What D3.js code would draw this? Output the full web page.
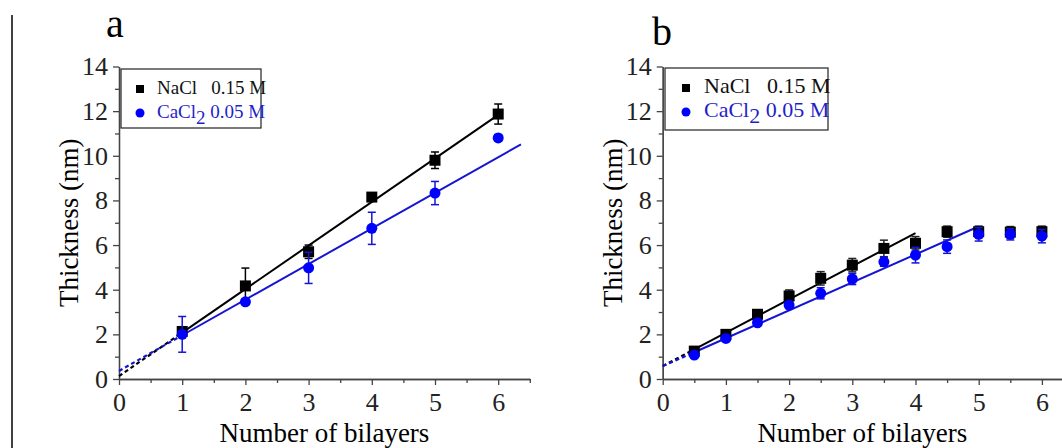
<!DOCTYPE html>
<html>
<head>
<meta charset="utf-8">
<script src="https://cdn.jsdelivr.net/npm/d3@7"></script>
<style>
  html, body { margin: 0; padding: 0; background: #fff; }
  svg { display: block; }
  .axis path, .axis line { stroke: #444; stroke-width: 1.3; }
</style>
</head>
<body>
<div id="chart"></div>
<script>
// panel a - whole bilayers
const bilayersA = [1, 2, 3, 4, 5, 6];
const naclA = [2.13, 4.17, 5.7, 8.15, 9.8, 11.87];
const naclErrA = [0.15, 0.8, 0.3, 0.15, 0.37, 0.45];
const caclA = [2.0, 3.46, 4.98, 6.75, 8.33, 10.8];
const caclErrA = [0.8, 0.12, 0.7, 0.72, 0.52, 0.15];
// linear fits: first segment dashed, second solid
const naclFitXA = [0, 1, 6];
const naclFitYA = [0.13, 2.08, 11.83];
const caclFitXA = [0, 1, 6.36];
const caclFitYA = [0.36, 1.96, 10.51];

// panel b - half bilayers
const bilayersB = [0.5, 1, 1.5, 2, 2.5, 3, 3.5, 4, 4.5, 5, 5.5, 6];
const naclB = [1.25, 2.0, 2.9, 3.72, 4.51, 5.1, 5.85, 6.08, 6.6, 6.6, 6.58, 6.6];
const naclErrB = [0.1, 0.1, 0.15, 0.27, 0.3, 0.3, 0.37, 0.3, 0.25, 0.25, 0.25, 0.25];
const caclB = [1.07, 1.82, 2.52, 3.31, 3.84, 4.48, 5.25, 5.55, 5.93, 6.48, 6.48, 6.4];
const caclErrB = [0.1, 0.1, 0.1, 0.15, 0.25, 0.25, 0.2, 0.35, 0.3, 0.3, 0.25, 0.3];
const naclFitXB = [0, 0.5, 4];
const naclFitYB = [0.58, 1.33, 6.54];
const caclFitXB = [0, 0.5, 4.99];
const caclFitYB = [0.58, 1.2, 6.82];

const xMajor = [0, 1, 2, 3, 4, 5, 6];
const xMinor = [0.5, 1.5, 2.5, 3.5, 4.5, 5.5, 6.5];
const yMajor = [0, 2, 4, 6, 8, 10, 12, 14];
const yMinor = [1, 3, 5, 7, 9, 11, 13];

const black = "#000";
const blue = "#0000ff";
const blueLine = "#1414d2";
const serif = "'Liberation Serif', 'Times New Roman', serif";

const W = 1062, H = 448;
const svg = d3.select("#chart").append("svg")
    .attr("width", W)
    .attr("height", H)
    .attr("font-family", serif);

// left border line
svg.append("line")
    .attr("x1", 12).attr("x2", 12)
    .attr("y1", 15).attr("y2", H)
    .attr("stroke", "#000").attr("stroke-width", 1.5);

function styleAxis(sel) {
    sel.attr("font-family", serif).attr("font-size", 26);
    sel.selectAll("text").attr("fill", "#222");
}

function drawPanel(p) {
    let xScale = d3.scaleLinear().domain([0, 6.5]).range([p.left, p.left + 6.5 * 63.2]);
    let yScale = d3.scaleLinear().domain([0, 14]).range([379, 66.5]);

    let g = svg.append("g");

    // axes
    g.append("g")
        .attr("class", "axis")
        .attr("transform", "translate(0,379)")
        .call(d3.axisBottom(xScale).tickValues(xMinor).tickSize(4).tickSizeOuter(0).tickFormat(""));
    g.append("g")
        .attr("class", "axis")
        .attr("transform", "translate(0,379)")
        .call(d3.axisBottom(xScale).tickValues(xMajor).tickSize(6).tickSizeOuter(0).tickPadding(8).tickFormat(d3.format("d")))
        .call(styleAxis);
    g.append("g")
        .attr("class", "axis")
        .attr("transform", "translate(" + p.left + ",0)")
        .call(d3.axisLeft(yScale).tickValues(yMinor).tickSize(4).tickSizeOuter(0).tickFormat(""));
    g.append("g")
        .attr("class", "axis")
        .attr("transform", "translate(" + p.left + ",0)")
        .call(d3.axisLeft(yScale).tickValues(yMajor).tickSize(6).tickSizeOuter(0).tickPadding(5).tickFormat(d3.format("d")))
        .call(styleAxis);

    g.append("text") // x axis label
        .text("Number of bilayers")
        .attr("text-anchor", "middle")
        .attr("x", (p.left + Math.min(p.left + 6.5 * 63.2, W)) / 2)
        .attr("y", 442)
        .attr("font-size", 27);

    g.append("text") // y axis label
        .text("Thickness (nm)")
        .attr("text-anchor", "middle")
        .attr("transform", "translate(" + (p.left - 41) + "," + yScale(7) + ") rotate(-90)")
        .attr("font-size", 27);

    g.append("text") // panel letter
        .text(p.letter)
        .attr("x", p.letterX)
        .attr("y", p.letterY)
        .attr("font-size", 40);

    let line = d3.line()
        .x(d => xScale(d[0]))
        .y(d => yScale(d[1]));

    // fits
    p.fits.forEach(f => {
        let pts = f.x.map((v, i) => [v, f.y[i]]);
        g.append("path")
            .datum(pts.slice(0, 2))
            .attr("fill", "none")
            .attr("stroke", f.color)
            .attr("stroke-width", 2.2)
            .attr("stroke-dasharray", "4,3")
            .attr("d", line);
        g.append("path")
            .datum(pts.slice(1))
            .attr("fill", "none")
            .attr("stroke", f.color)
            .attr("stroke-width", 2)
            .attr("d", line);
    });

    // error bars + markers
    p.series.forEach(s => {
        let rows = p.xs.map((v, i) => ({ x: v, y: s.y[i], e: s.err[i] }));
        let eg = g.append("g").attr("stroke", s.errColor).attr("stroke-width", 1.5);
        rows.forEach(d => {
            let cx = xScale(d.x);
            eg.append("line").attr("x1", cx).attr("x2", cx)
                .attr("y1", yScale(d.y - d.e)).attr("y2", yScale(d.y + d.e));
            eg.append("line").attr("x1", cx - 4).attr("x2", cx + 4)
                .attr("y1", yScale(d.y - d.e)).attr("y2", yScale(d.y - d.e));
            eg.append("line").attr("x1", cx - 4).attr("x2", cx + 4)
                .attr("y1", yScale(d.y + d.e)).attr("y2", yScale(d.y + d.e));
        });
        if (s.shape === "square") {
            g.selectAll(null).data(rows).enter().append("rect")
                .attr("x", d => xScale(d.x) - 5.5)
                .attr("y", d => yScale(d.y) - 5.5)
                .attr("width", 11).attr("height", 11)
                .attr("fill", s.color);
        } else {
            g.selectAll(null).data(rows).enter().append("circle")
                .attr("cx", d => xScale(d.x))
                .attr("cy", d => yScale(d.y))
                .attr("r", 5.5)
                .attr("fill", s.color);
        }
    });

    // legend
    let L = p.legend;
    g.append("rect")
        .attr("x", L.x).attr("y", L.y)
        .attr("width", L.w).attr("height", L.h)
        .attr("fill", "#fff")
        .attr("stroke", "#222").attr("stroke-width", 1.2);
    g.append("rect")
        .attr("x", L.x + L.mark - 4).attr("y", L.y + 16)
        .attr("width", 8).attr("height", 8)
        .attr("fill", black);
    g.append("circle")
        .attr("cx", L.x + L.mark).attr("cy", L.y + 44)
        .attr("r", 4.5)
        .attr("fill", blue);
    g.append("text")
        .attr("x", L.x + L.text).attr("y", L.y + 25)
        .attr("font-size", L.font)
        .style("white-space", "pre")
        .attr("fill", "#111")
        .text("NaCl   0.15 M");
    let t2 = g.append("text")
        .attr("x", L.x + L.text).attr("y", L.y + 49)
        .attr("font-size", L.font)
        .attr("fill", "#1f1fc8");
    t2.append("tspan").text("CaCl");
    t2.append("tspan").attr("dy", 6).text("2");
    t2.append("tspan").attr("dy", -6).text(" 0.05 M");
}

drawPanel({
    left: 119,
    letter: "a", letterX: 106, letterY: 37,
    xs: bilayersA,
    fits: [
        { x: naclFitXA, y: naclFitYA, color: black },
        { x: caclFitXA, y: caclFitYA, color: blueLine }
    ],
    series: [
        { y: naclA, err: naclErrA, color: black, errColor: black, shape: "square" },
        { y: caclA, err: caclErrA, color: blue, errColor: blueLine, shape: "circle" }
    ],
    legend: { x: 121, y: 69, w: 140, h: 59, mark: 19, text: 36, font: 19 }
});

drawPanel({
    left: 662.7,
    letter: "b", letterX: 652, letterY: 45,
    xs: bilayersB,
    fits: [
        { x: naclFitXB, y: naclFitYB, color: black },
        { x: caclFitXB, y: caclFitYB, color: blueLine }
    ],
    series: [
        { y: naclB, err: naclErrB, color: black, errColor: "#222", shape: "square" },
        { y: caclB, err: caclErrB, color: blue, errColor: blueLine, shape: "circle" }
    ],
    legend: { x: 665, y: 68, w: 163, h: 62, mark: 21, text: 39, font: 22 }
});
</script>
</body>
</html>
